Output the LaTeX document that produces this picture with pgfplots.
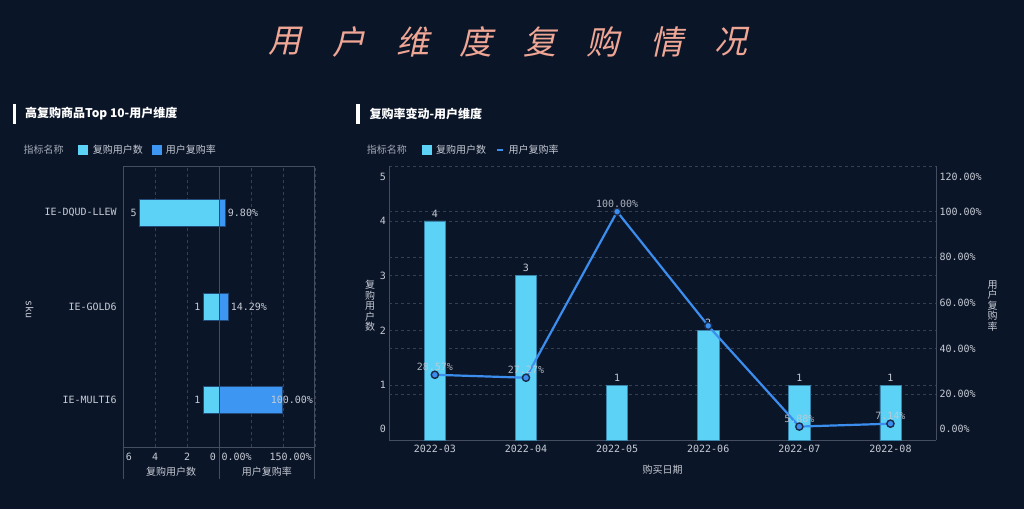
\documentclass[border=0pt]{standalone}
\usepackage{pgfplots}
\pgfplotsset{compat=1.18}
\usepackage{fontspec}
\setmainfont{Noto Sans CJK SC}
\newfontfamily\mono{DejaVu Sans Mono}
\newfontfamily\titlefont{Noto Sans CJK SC}[FakeSlant=0.22]
\newcommand\tickfont{\mono\fontsize{10}{12}\selectfont}
\newcommand\cnfont{\fontsize{10}{11}\selectfont}
\definecolor{bg}{HTML}{0B1528}
\definecolor{txt}{HTML}{C6CCD5}
\definecolor{txtdim}{HTML}{A2AAB6}
\definecolor{axc}{HTML}{454E60}
\definecolor{gridc}{HTML}{364053}
\definecolor{cyanc}{HTML}{5CD2F6}
\definecolor{bluec}{HTML}{3D96F2}
\definecolor{linec}{HTML}{3B8DEE}
\definecolor{bordc}{HTML}{21497A}
\definecolor{bordr}{HTML}{3A85AA}
\definecolor{titlec}{HTML}{EFA695}
\definecolor{markb}{HTML}{1B2B47}
\pgfplotsset{/pgf/number format/assume math mode=true,
  lstyle/.style={scale only axis, height=281pt, width=95.7pt, xbar, bar width=27pt,
    ymin=-0.5, ymax=2.5, enlargelimits=false, axis line style={draw=axc, line width=0.8pt},
    major tick length=0, xmajorgrids, grid style={dashed, draw=gridc},
    tick label style={font=\tickfont, text=txt}, xticklabel style={yshift=-3pt}}}
\begin{document}
\begin{tikzpicture}
\fill[bg] (0pt,0pt) rectangle (1024pt,509pt);
% title
\foreach \c [count=\i from 0] in {用,户,维,度,复,购,情,况} {
  \node[text=titlec, font=\titlefont\fontsize{33}{33}\selectfont, anchor=center] at ({285.3pt+63.6pt*\i},467.3pt) {\c};
}
% headers
\fill[white] (12.7pt,385.3pt) rectangle (16.3pt,404.7pt);
\node[anchor=west, text=white, font=\bfseries\fontsize{12}{14}\selectfont, inner sep=0] at (25pt,395pt) {高复购商品Top 10-用户维度};
\fill[white] (356pt,385.3pt) rectangle (359.5pt,404.7pt);
\node[anchor=west, text=white, font=\bfseries\fontsize{12}{14}\selectfont, inner sep=0] at (369.3pt,395pt) {复购率变动-用户维度};
% legends
\node[anchor=west, inner sep=0, text=txtdim, font=\cnfont] at (23.3pt,359pt) {指标名称};
\fill[cyanc] (78.3pt,354pt) rectangle (88.3pt,364pt);
\node[anchor=west, inner sep=0, text=txt, font=\cnfont] at (92.7pt,359pt) {复购用户数};
\fill[bluec] (151.7pt,354pt) rectangle (161.7pt,364pt);
\node[anchor=west, inner sep=0, text=txt, font=\cnfont] at (165.7pt,359pt) {用户复购率};
\node[anchor=west, inner sep=0, text=txtdim, font=\cnfont] at (366.7pt,359pt) {指标名称};
\fill[cyanc] (421.7pt,354pt) rectangle (431.7pt,364pt);
\node[anchor=west, inner sep=0, text=txt, font=\cnfont] at (436pt,359pt) {复购用户数};
\draw[linec, line width=2pt] (496.7pt,359pt) -- (503.3pt,359pt);
\node[anchor=west, inner sep=0, text=txt, font=\cnfont] at (508.3pt,359pt) {用户复购率};

% ---------- left chart: counts ----------
\begin{axis}[lstyle, at={(123.3pt,62pt)}, anchor=south west, x dir=reverse,
  xmin=0, xmax=6, xtick={0,2,4,6},
  xticklabel={\ifcase\ticknum\makebox[0pt][r]{0\hspace{3pt}}\or 2\or 4\or\makebox[0pt][l]{\hspace{2.5pt}6}\fi},
  ytick={0,1,2}, yticklabels={IE-MULTI6,IE-GOLD6,IE-DQUD-LLEW}, yticklabel style={xshift=-3pt}]
\addplot[fill=cyanc, draw=bordc, line width=0.8pt] coordinates {(5,2) (1,1) (1,0)};
\node[anchor=east, font=\tickfont, text=txt, inner sep=2.5pt] at (axis cs:5,2) {5};
\node[anchor=east, font=\tickfont, text=txt, inner sep=2.5pt] at (axis cs:1,1) {1};
\node[anchor=east, font=\tickfont, text=txt, inner sep=2.5pt] at (axis cs:1,0) {1};
\end{axis}
% ---------- left chart: rate ----------
\begin{axis}[lstyle, at={(219pt,62pt)}, anchor=south west,
  xmin=0, xmax=150, xtick={0,50,100,150},
  xticklabel={\ifcase\ticknum\makebox[0pt][l]{\hspace{2.5pt}0.00\%}\or\or\or\makebox[0pt][r]{150.00\%\hspace{3pt}}\fi},
  ytick={0,1,2}, yticklabels={}]
\addplot[fill=bluec, draw=bordc, line width=0.8pt] coordinates {(9.80,2) (14.29,1) (100,0)};
\node[anchor=west, font=\tickfont, text=txt, inner sep=2.5pt] at (axis cs:9.80,2) {9.80\%};
\node[anchor=west, font=\tickfont, text=txt, inner sep=2.5pt] at (axis cs:14.29,1) {14.29\%};
\node[anchor=east, font=\tickfont, text=txt, inner sep=1.5pt] at (axis cs:150,0) {100.00\%};
\end{axis}
\draw[axc, line width=0.8pt] (123.3pt,62pt) -- (123.3pt,30pt);
\draw[axc, line width=0.8pt] (219pt,62pt) -- (219pt,30pt);
\draw[axc, line width=0.8pt] (314.7pt,62pt) -- (314.7pt,30pt);
\node[font=\cnfont, text=txt] at (171.15pt,37.3pt) {复购用户数};
\node[font=\cnfont, text=txt] at (266.85pt,37.3pt) {用户复购率};
\node[rotate=-90, font=\tickfont, text=txt] at (29.6pt,199.3pt) {sku};

% ---------- right chart: bars ----------
\begin{axis}[scale only axis, width=546.7pt, height=274pt, at={(389.3pt,69pt)}, anchor=south west,
  ybar, bar width=21.3pt, xmin=-0.5, xmax=5.5, ymin=0, ymax=5, enlargelimits=false,
  axis x line*=bottom, axis y line*=left, axis line style={-, draw=axc, line width=0.8pt},
  major tick length=0,
  xtick={0,...,5}, xticklabels={2022-03,2022-04,2022-05,2022-06,2022-07,2022-08},
  xticklabel style={yshift=-1.5pt},
  ytick={0,...,5},
  yticklabel={\ifcase\ticknum\raisebox{7.05pt}[0pt][0pt]{0}\or 1\or 2\or 3\or 4\or\raisebox{-14.35pt}[0pt][0pt]{5}\fi},
  ymajorgrids, grid style={dashed, draw=gridc},
  extra y ticks={0.83333,1.66667,2.5,3.33333,4.16667}, extra y tick labels={},
  extra y tick style={grid=major},
  tick label style={font=\tickfont, text=txt},
  xlabel={购买日期}, ylabel={复\\购\\用\\户\\数},
  every axis x label/.style={at={(axis description cs:0.5,-0.107)}, anchor=center, font=\cnfont, text=txt},
  every axis y label/.style={at={(axis description cs:-0.0353,0.489)}, anchor=center, align=center, font=\fontsize{10}{10.5}\selectfont, text=txt},
  nodes near coords, every node near coord/.append style={font=\tickfont, text=txt}]
\addplot[fill=cyanc, draw=bordr, line width=0.6pt] coordinates {(0,4) (1,3) (2,1) (3,2) (4,1) (5,1)};
\end{axis}
% ---------- right chart: line ----------
\begin{axis}[scale only axis, width=546.7pt, height=274pt, at={(389.3pt,69pt)}, anchor=south west,
  xmin=-0.5, xmax=5.5, ymin=0, ymax=120, enlargelimits=false, clip=false,
  axis x line=none, axis y line*=right, axis line style={-, draw=axc, line width=0.8pt},
  major tick length=0,
  ytick={0,20,...,120},
  yticklabel={\ifcase\ticknum\raisebox{7.05pt}[0pt][0pt]{0.00\%}\or 20.00\%\or 40.00\%\or 60.00\%\or 80.00\%\or 100.00\%\or\raisebox{-14.35pt}[0pt][0pt]{120.00\%}\fi},
  tick label style={font=\tickfont, text=txt},
  ylabel={用\\户\\复\\购\\率},
  every axis y label/.style={at={(axis description cs:1.1037,0.489)}, anchor=center, align=center, font=\fontsize{10}{10.5}\selectfont, text=txt}]
\addplot[linec, line width=2.2pt, mark=*, mark size=3.6pt,
  mark options={fill=linec, draw=markb, line width=1.4pt},
  nodes near coords, point meta=explicit symbolic,
  every node near coord/.append style={font=\tickfont, text=txt, opacity=0.85}]
  coordinates {(0,28.57) [28.57\%] (1,27.27) [27.27\%] (2,100) [100.00\%] (3,50) [{}] (4,5.88) [5.88\%] (5,7.14) [7.14\%]};
\end{axis}
\pgfresetboundingbox
\path[use as bounding box] (0pt,0pt) rectangle (1024pt,509pt);
\end{tikzpicture}
\end{document}
